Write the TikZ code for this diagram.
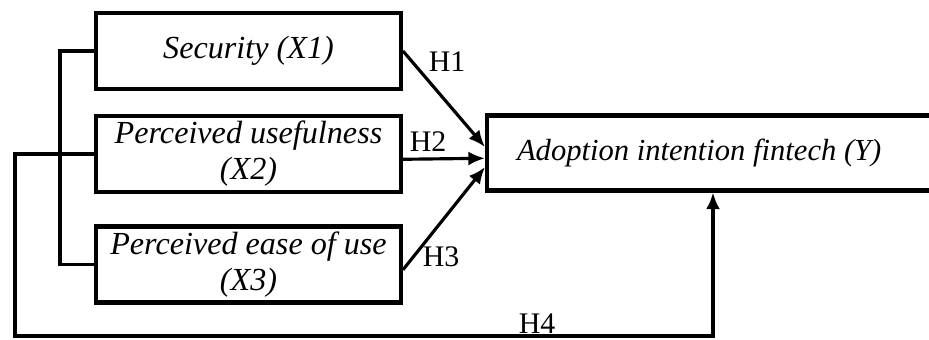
\documentclass[tikz,border=0pt]{standalone}
\usepackage{fontspec}
\setmainfont{Liberation Serif}
\usetikzlibrary{arrows.meta}

\tikzset{
  varbox/.style={draw, line width=2.3pt, minimum width=6.1cm, minimum height=1.52cm,
    align=center, inner sep=0pt, font=\fontsize{18.3}{20.5}\selectfont\itshape},
  hyp/.style={font=\fontsize{17}{20}\selectfont},
  link/.style={line width=1.8pt},
  path/.style={link, -{Latex[length=9.5pt,width=8pt]}}
}

\begin{document}
\begin{tikzpicture}[x=0.02cm,y=-0.02cm]
      \useasboundingbox (0,0) rectangle (929,339);
      \clip (0,0) rectangle (929,339);

      \node[varbox] (sec) at (248.5,51) {Security (X1)};
      \node[varbox] (use) at (248.5,154) {Perceived usefulness\\(X2)};
      \node[varbox] (ease) at (248.5,264.5) {Perceived ease of use\\(X3)};
      \node[varbox, minimum height=1.5cm, text width=7.84cm, align=flush left, inner xsep=0.6cm,
        font=\fontsize{17.4}{20}\selectfont\itshape] (adopt) at (713,153) {Adoption intention fintech (Y)};

      \node[hyp] (h1) at (447,62) {H1};
      \node[hyp] (h2) at (428,142) {H2};
      \node[hyp] (h3) at (441,257) {H3};
      \node[hyp] (h4) at (537,324) {H4};

      \draw[path] (sec.east) -- ([yshift=3.4pt]adopt.west);
      \draw[path] ([yshift=-3pt]use.east) -- ([yshift=-3pt]adopt.west);
      \draw[path] ([yshift=-3pt]ease.east) -- ([yshift=-8pt]adopt.west);
      \draw[link] (sec.west) -- ++(-34,0) |- (ease.west);
      \draw[path] (use.west) -| (15,336) -| (adopt.south);
    \end{tikzpicture}
\end{document}
